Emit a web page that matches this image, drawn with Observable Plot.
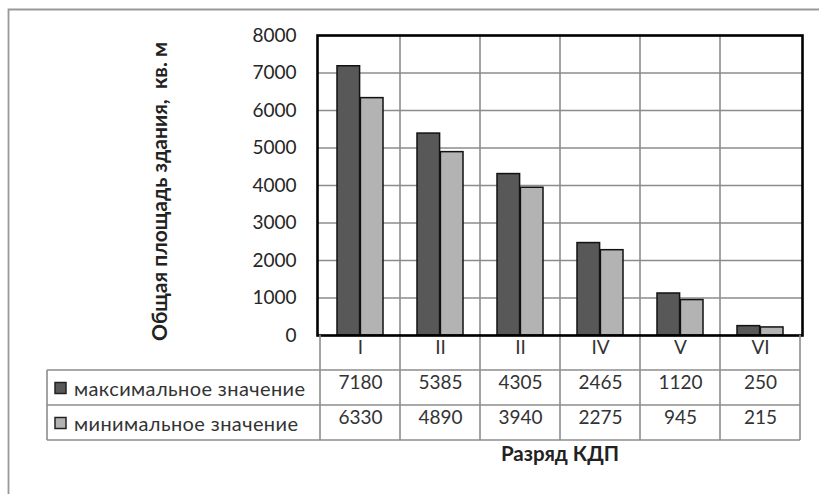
<!DOCTYPE html>
<html><head><meta charset="utf-8">
<script src="https://cdn.jsdelivr.net/npm/d3@7"></script>
<script src="https://cdn.jsdelivr.net/npm/@observablehq/plot@0.6"></script>
<style>
html,body{margin:0;padding:0;background:#fff;}
#chart{position:relative;width:819px;height:494px;overflow:hidden;}
#chart svg{display:block;}
</style></head><body><div id="chart"></div>
<script>
const categories = ["I", "II", "II", "IV", "V", "VI"];
const maxValues = [7180, 5385, 4305, 2465, 1120, 250];
const minValues = [6330, 4890, 3940, 2275, 945, 215];
const seriesNames = ["максимальное значение", "минимальное значение"];
const yTicks = [0, 1000, 2000, 3000, 4000, 5000, 6000, 7000, 8000];
const yTitle = "Общая площадь здания,  кв. м";
const xTitle = "Разряд КДП";

const data = categories.map((c, i) => ({i, c, max: maxValues[i], min: minValues[i]}));

const FONT = "Lato, 'Open Sans', sans-serif";
const W = 819, H = 494, ML = 317, MR = 17, MT = 35, MB = 159;
const ROW = 35; // table row height
const DARK = "#585858", LIGHT = "#b3b3b3", GRID = "#8c8c8c";

const chart = Plot.plot({
  width: W, height: H,
  marginLeft: ML, marginRight: MR, marginTop: MT, marginBottom: MB,
  style: {fontFamily: FONT, fontSize: "19px", color: "#262626", background: "transparent", overflow: "visible"},
  x: {type: "band", domain: d3.range(categories.length), padding: 0, axis: null},
  y: {domain: [0, 8000], ticks: yTicks, tickSize: 0, tickPadding: 21, label: null, tickFormat: d => String(d)},
  marks: [
    Plot.ruleY(yTicks, {stroke: GRID, strokeWidth: 1.6}),
    Plot.barY(data, {x: "i", y: "max", fill: DARK, stroke: "#111", strokeWidth: 1.5, insetLeft: 17, insetRight: 40.4}),
    Plot.barY(data, {x: "i", y: "min", fill: LIGHT, stroke: "#111", strokeWidth: 1.5, insetLeft: 40.4, insetRight: 17}),
    Plot.frame({stroke: "#000", strokeWidth: 2.6}),
    // data table texts
    Plot.text(data, {x: "i", text: d => categories[d.i], frameAnchor: "bottom", dy: ROW / 2 + 0.5, fill: "#333"}),
    Plot.text(data, {x: "i", text: d => String(d.max), frameAnchor: "bottom", dy: ROW * 1.5 + 1, fill: "#333"}),
    Plot.text(data, {x: "i", text: d => String(d.min), frameAnchor: "bottom", dy: ROW * 2.5 + 1, fill: "#333"}),
    // titles
    Plot.text([yTitle], {frameAnchor: "left", textAnchor: "middle", dx: -157, dy: 6, rotate: -90, fontWeight: "bold", fontSize: 21, fill: "#222", letterSpacing: 0.3}),
    Plot.text([xTitle], {frameAnchor: "bottom", dy: 125, fontWeight: "bold", fontSize: 20.5, fill: "#222"})
  ]
});

document.getElementById("chart").appendChild(chart);

// Table grid lines and legend keys, placed with the plot's own scales
const xs = chart.scale("x");
const ys = chart.scale("y");
const bw = xs.bandwidth;
const x0 = xs.apply(0), x1 = xs.apply(categories.length - 1) + bw;
const yBase = ys.apply(0), yTop = ys.apply(8000);
const tableLeft = 47;
const svg = d3.select(chart);

const under = svg.insert("g", "g").attr("stroke", GRID).attr("stroke-width", 1.6);
// vertical column lines inside plot and through table
for (let k = 1; k < categories.length; k++) {
  const xx = xs.apply(k);
  under.append("line").attr("x1", xx).attr("x2", xx).attr("y1", yTop).attr("y2", yBase + 3 * ROW);
}

const tg = svg.append("g").attr("stroke", GRID).attr("stroke-width", 1.6);
[x0, x1].forEach(xx => tg.append("line").attr("x1", xx).attr("x2", xx).attr("y1", yBase).attr("y2", yBase + 3 * ROW));
for (let r = 1; r <= 3; r++) {
  const yy = yBase + r * ROW;
  tg.append("line").attr("x1", tableLeft).attr("x2", x1).attr("y1", yy).attr("y2", yy);
}
tg.append("line").attr("x1", tableLeft).attr("x2", tableLeft).attr("y1", yBase + ROW).attr("y2", yBase + 3 * ROW);

// legend keys + labels in the table
const lg = svg.append("g");
[DARK, LIGHT].forEach((col, r) => {
  const cy = yBase + ROW * (r + 1.5) + 1;
  lg.append("rect").attr("x", 55).attr("y", cy - 6).attr("width", 11).attr("height", 11)
    .attr("fill", col).attr("stroke", "#222").attr("stroke-width", 1.5);
  lg.append("text").attr("x", 74).attr("y", cy).attr("dy", "0.35em").attr("text-anchor", "start")
    .attr("font-family", FONT).attr("font-size", 20).attr("letter-spacing", 0.4).attr("fill", "#333").text(seriesNames[r]);
});

// outer chart border (top and left visible)
const ob = svg.append("g").attr("stroke", "#999").attr("stroke-width", 1.8).attr("fill", "none");
ob.append("path").attr("d", `M8.5,${H}V9.5H${W}`);
</script>
</body></html>
